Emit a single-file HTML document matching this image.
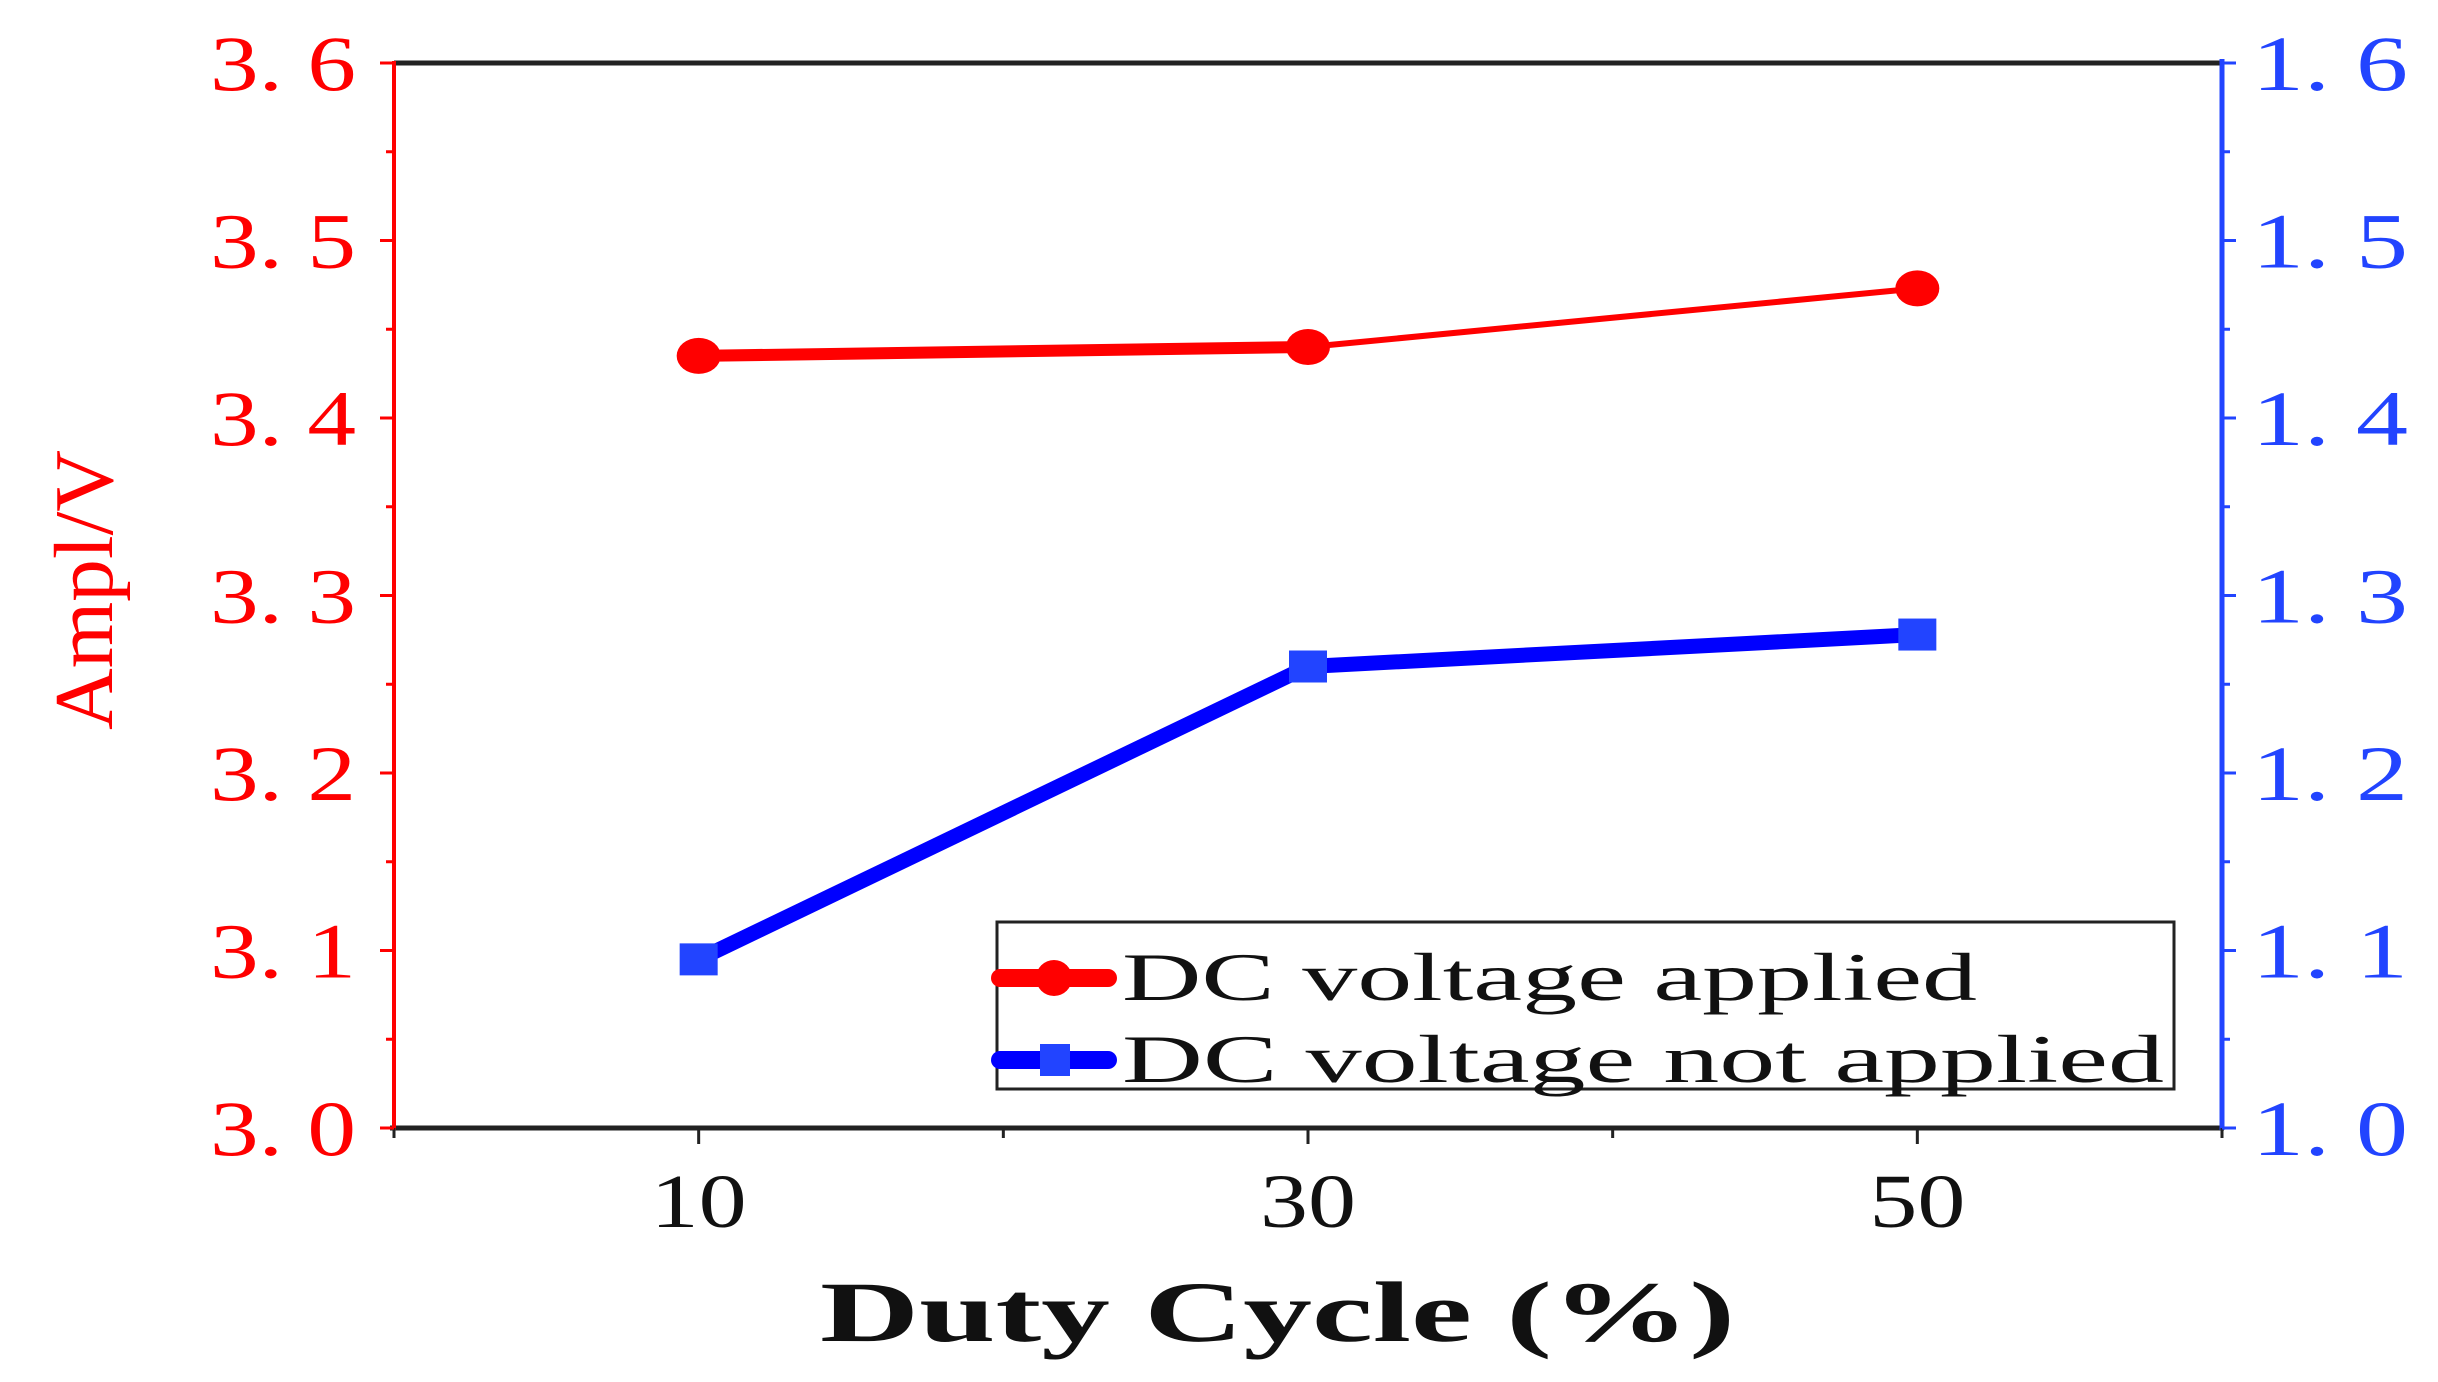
<!DOCTYPE html>
<html><head><meta charset="utf-8"><style>
html,body{margin:0;padding:0;background:#fff;}
svg{display:block;}
text{font-family:"Liberation Serif","Noto Serif CJK SC",serif;}
</style></head><body>
<svg id="chart" width="2438" height="1382" viewBox="0 0 2438 1382" xmlns="http://www.w3.org/2000/svg">
<g id="axes"></g>
<g id="series"></g>
<g id="legend">
  <rect x="997" y="922" width="1177" height="167" fill="#fff" stroke="#222" stroke-width="3"/>
  <line x1="1000" y1="978" x2="1108" y2="978" stroke="#f00" stroke-width="18" stroke-linecap="round"/>
  <circle cx="1054" cy="978" r="18" fill="#f00"/>
  <text x="1122" y="1000" font-size="68" textLength="855" lengthAdjust="spacingAndGlyphs" fill="#111">DC voltage applied</text>
  <line x1="1000" y1="1060" x2="1108" y2="1060" stroke="#00f" stroke-width="18" stroke-linecap="round"/>
  <rect x="1040" y="1044" width="30" height="32" fill="#2244ff"/>
  <text x="1122" y="1082" font-size="68" textLength="1042" lengthAdjust="spacingAndGlyphs" fill="#111">DC voltage not applied</text>
</g>
</svg>
<script>
const categories = [10, 30, 50];
const redValues = [3.435, 3.44, 3.473];
const blueValues = [1.095, 1.26, 1.278];
const leftTicks = ["3.0","3.1","3.2","3.3","3.4","3.5","3.6"];
const rightTicks = ["1.0","1.1","1.2","1.3","1.4","1.5","1.6"];
const xTickLabels = ["10","30","50"];

const NS = "http://www.w3.org/2000/svg";
const L = 394, R = 2222, T = 63, B = 1128;
const xs = v => L + (v - 0) / 60 * (R - L);
const yl = v => B - (v - 3.0) / 0.6 * (B - T);
const yr = v => B - (v - 1.0) / 0.6 * (B - T);
function mk(tag, attrs, parent) {
  const e = document.createElementNS(NS, tag);
  for (const k in attrs) e.setAttribute(k, attrs[k]);
  parent.appendChild(e);
  return e;
}
const axes = document.getElementById('axes');
const series = document.getElementById('series');

let el = mk('line', {x1:L, y1:T, x2:R, y2:T, stroke:'#222', 'stroke-width':5}, axes);


el = mk('line', {x1:L-4, y1:B, x2:R+2, y2:B, stroke:'#222', 'stroke-width':5}, axes);


el = mk('line', {x1:L, y1:T-2, x2:L, y2:B+2, stroke:'#f00', 'stroke-width':4}, axes);


el = mk('line', {x1:R, y1:T-4, x2:R, y2:B+2, stroke:'#2244ff', 'stroke-width':5}, axes);



for (let v = 0; v <= 60; v += 10) {
  const major = (v % 20 === 10);
  el = mk('line', {x1:xs(v), y1:B, x2:xs(v), y2:B + (major ? 16 : 10), stroke:'#222', 'stroke-width':3}, axes);
  
  
}
xTickLabels.forEach(t => {
  el = mk('text', {x:xs(+t), y:1227, 'font-size':76, 'text-anchor':'middle', fill:'#111', textLength:96, lengthAdjust:'spacingAndGlyphs'}, axes);
  el.textContent = t;
  
  
});
for (let i = 0; i <= 12; i++) {
  const major = i % 2 === 0;
  const yy = B - i / 12 * (B - T);
  el = mk('line', {x1:L - (major ? 14 : 8), y1:yy, x2:L, y2:yy, stroke:'#f00', 'stroke-width':3}, axes);
  
  
  el = mk('line', {x1:R, y1:yy, x2:R + (major ? 14 : 8), y2:yy, stroke:'#2244ff', 'stroke-width':3}, axes);
  
  
}
leftTicks.forEach(t => {
  el = mk('text', {x:356, y:yl(+t) + 27, 'font-size':78, 'text-anchor':'end', fill:'#f00', textLength:146, lengthAdjust:'spacingAndGlyphs'}, axes);
  el.textContent = t.replace('.', '. ');
  
  
});
rightTicks.forEach(t => {
  el = mk('text', {x:2252, y:yr(+t) + 27, 'font-size':78, fill:'#2244ff', textLength:156, lengthAdjust:'spacingAndGlyphs'}, axes);
  el.textContent = t.replace('.', '. ');
  
  
});
el = mk('text', {x:820, y:1341, 'font-size':86, fill:'#111', textLength:915, lengthAdjust:'spacingAndGlyphs', 'font-weight':'bold'}, axes);
el.textContent = 'Duty Cycle (%)';


el = mk('text', {x:0, y:0, 'font-size':84, fill:'#f00', 'text-anchor':'middle', textLength:280, lengthAdjust:'spacingAndGlyphs', transform:'translate(112,590) rotate(-90)'}, axes);
el.textContent = 'Ampl/V';



const redW = [12, 6];
for (let i = 0; i < categories.length - 1; i++) {
  el = mk('line', {x1:xs(categories[i]), y1:yl(redValues[i]), x2:xs(categories[i+1]), y2:yl(redValues[i+1]), stroke:'#f00', 'stroke-width':redW[i] || 6}, series);
  
  
}
for (let i = 0; i < categories.length - 1; i++) {
  el = mk('line', {x1:xs(categories[i]), y1:yr(blueValues[i]), x2:xs(categories[i+1]), y2:yr(blueValues[i+1]), stroke:'#00f', 'stroke-width':15}, series);
  
  
}
categories.forEach((c, i) => {
  el = mk('ellipse', {cx:xs(c), cy:yl(redValues[i]), rx:22, ry:18, fill:'#f00'}, series);
  
  
  el = mk('rect', {x:xs(c) - 19, y:yr(blueValues[i]) - 16, width:38, height:32, fill:'#2244ff'}, series);
  
  
});
</script>
</body></html>
